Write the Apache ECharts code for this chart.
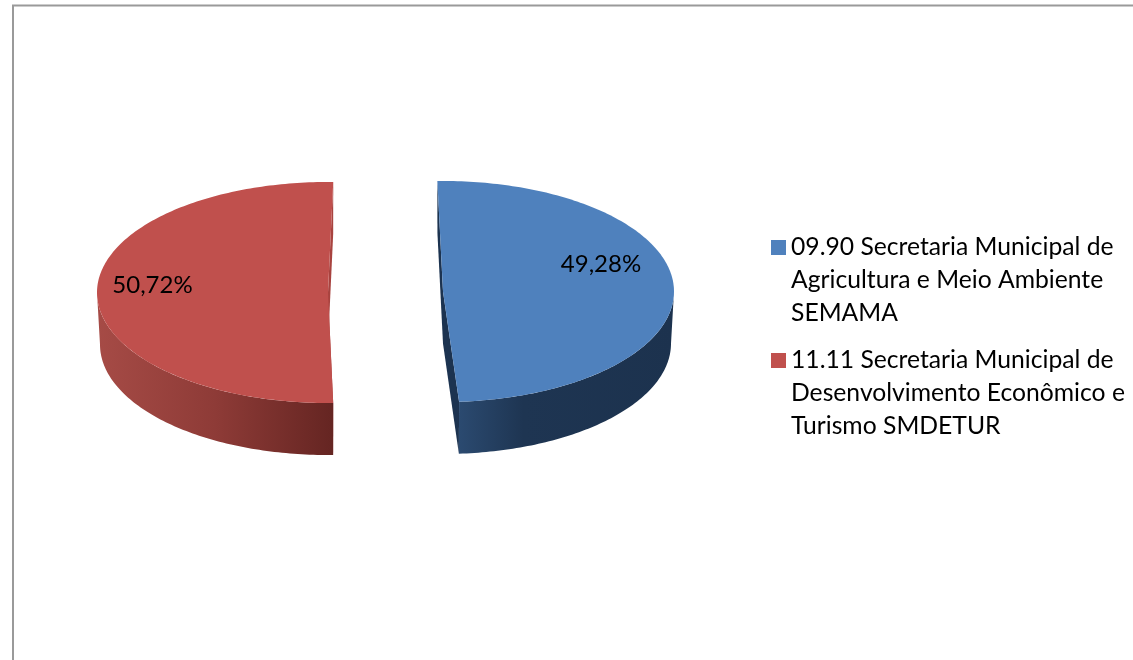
<!DOCTYPE html>
<html>
<head>
<meta charset="utf-8">
<title>Secretarias</title>
<script src="https://cdn.jsdelivr.net/npm/echarts@6/dist/echarts.min.js"></script>
<style>
html,body{margin:0;padding:0;background:#fff;}
#chart{width:1133px;height:660px;}
</style>
</head>
<body>
<div id="chart"></div>
<script>
// dados
var sliceNames = ['09.90 Secretaria Municipal de Agricultura e Meio Ambiente SEMAMA',
                  '11.11 Secretaria Municipal de Desenvolvimento Econômico e Turismo SMDETUR'];
var sliceLegendLines = [['09.90 Secretaria Municipal de', 'Agricultura e Meio Ambiente', 'SEMAMA'],
                        ['11.11 Secretaria Municipal de', 'Desenvolvimento Econômico e', 'Turismo SMDETUR']];
var sliceValues = [49.28, 50.72];

// layout do "3D": centro, raios, rotacao e posicao do rotulo de cada fatia
var centerX = [443, 328];
var centerY = [291.5, 292.5];
var rotation = [-1.4, 1.3];
var labelX = [601, 152.5];
var labelY = [264, 285];
var radiusX = 231, radiusY = 110.5, depth = 52, bottomShrink = 3;

var topColors = ['#4f81bd', '#c0504d'];
var cutColors = ['#1c3350', '#a8433f'];
var wallStops = [
  [[0, '#2b4a70'], [0.3, '#1e3552'], [1, '#1c324e']],
  [[0, '#a64b46'], [0.5, '#8e3b37'], [1, '#652522']]
];

var total = sliceValues[0] + sliceValues[1];

function rim(i, deg, low) {
  var t = deg * Math.PI / 180;
  var rx = low ? radiusX - bottomShrink : radiusX;
  return [centerX[i] + rx * Math.sin(t), centerY[i] + (low ? depth : 0) - radiusY * Math.cos(t)];
}

function arcPoints(i, from, to, low) {
  var pts = [];
  var n = Math.max(2, Math.ceil(Math.abs(to - from)));
  for (var k = 0; k <= n; k++) {
    pts.push(rim(i, from + (to - from) * k / n, low));
  }
  return pts;
}

function poly(points, fill) {
  return {type: 'polygon', shape: {points: points}, style: {fill: fill}};
}

function renderSlice(i) {
  return function () {
    var before = 0;
    for (var j = 0; j < i; j++) before += sliceValues[j];
    var from = before / total * 360 + rotation[i];
    var to = (before + sliceValues[i]) / total * 360 + rotation[i];
    var c = [centerX[i], centerY[i]];
    var cLow = [centerX[i], centerY[i] + depth];
    var children = [];

    // paredes do corte
    children.push(poly([c, rim(i, from), rim(i, from, true), cLow], cutColors[i]));
    children.push(poly([c, rim(i, to), rim(i, to, true), cLow], cutColors[i]));

    // parede externa, so a parte da frente (90 a 270 graus)
    var a = Math.max(from, 90), b = Math.min(to, 270);
    var wall = arcPoints(i, a, b).concat(arcPoints(i, b, a, true));
    var xs = wall.map(function (p) { return p[0]; });
    var minX = Math.min.apply(null, xs), maxX = Math.max.apply(null, xs);
    var grad = new echarts.graphic.LinearGradient(minX, 0, maxX, 0,
      wallStops[i].map(function (s) { return {offset: s[0], color: s[1]}; }), true);
    children.push(poly(wall, grad));

    // tampo
    children.push(poly([c].concat(arcPoints(i, from, to)), topColors[i]));

    children.push({
      type: 'text',
      style: {
        text: sliceValues[i].toFixed(2).replace('.', ',') + '%',
        x: labelX[i], y: labelY[i],
        align: 'center', verticalAlign: 'middle',
        font: '24px Lato', fill: '#000'
      }
    });
    return {type: 'group', children: children};
  };
}

var seriesList = sliceNames.map(function (name, i) {
  return {
    name: name,
    type: 'custom',
    coordinateSystem: 'none',
    data: [sliceValues[i]],
    itemStyle: {color: topColors[i]},
    renderItem: renderSlice(i),
    silent: true
  };
});

var myChart = echarts.init(document.getElementById('chart'), null, {renderer: 'canvas'});

var option = {
  animation: false,
  backgroundColor: '#fff',
  legend: {
    orient: 'vertical',
    left: 766,
    top: 160,
    icon: 'rect',
    itemWidth: 15,
    itemHeight: 15,
    itemGap: -52,
    selectedMode: false,
    data: sliceNames,
    // duas linhas em branco antes: o icone fica na altura da primeira linha
    formatter: function (name) {
      return '\n\n' + sliceLegendLines[sliceNames.indexOf(name)].join('\n');
    },
    textStyle: {fontFamily: 'Lato', fontSize: 24.7, lineHeight: 33, color: '#000'}
  },
  graphic: [
    {type: 'line', shape: {x1: 12, y1: 5.5, x2: 1133, y2: 5.5}, style: {stroke: '#9a9a9a', lineWidth: 2}},
    {type: 'line', shape: {x1: 13, y1: 5, x2: 13, y2: 660}, style: {stroke: '#9a9a9a', lineWidth: 2}}
  ],
  series: seriesList
};

myChart.setOption(option);
</script>
</body>
</html>
